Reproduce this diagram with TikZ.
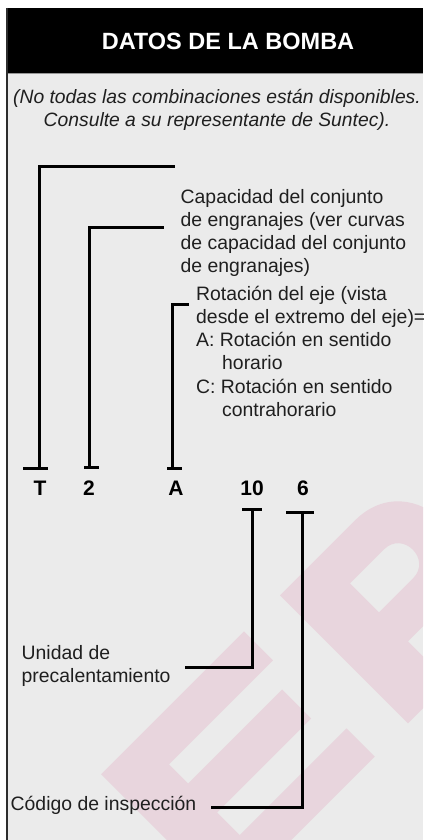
\documentclass[tikz,border=0pt]{standalone}
\usepackage{fontspec}
\setmainfont{Liberation Sans}
\usepackage{tikz}
\usetikzlibrary{positioning, calc}

\definecolor{panelgray}{RGB}{235,235,235}
\definecolor{framegray}{RGB}{45,45,45}
\definecolor{rulegray}{RGB}{150,150,150}
\definecolor{markpink}{RGB}{232,213,221}

\begin{document}
\begin{tikzpicture}[x=1pt, y=-1pt,
    conn/.style={line width=3pt, black},
    code/.style={font=\bfseries\fontsize{21}{25}\selectfont, anchor=base, inner sep=0pt},
    desc/.style={font=\fontsize{19.4}{23.3}\selectfont, align=left, anchor=base west, inner sep=0pt, text=black!88}]
    \useasboundingbox (0,0) rectangle (423,840);

    % Panel
    \fill[panelgray] (7,8) rectangle (423,840);

    % Watermark (tilted E and P)
    \begin{scope}
        \clip (8,75) rectangle (423,840);
        \begin{scope}[rotate=45, markpink]
            \fill (-476,619) -- (-274,619) -- (-274,660) -- (-421,660) -- (-421,687) -- (-288,687) -- (-288,728)
                -- (-421,728) -- (-421,760) -- (-270,760) -- (-270,800) -- (-476,800) -- cycle;
            \fill[even odd rule] (-223,800) -- (-223,619) -- (-117,619) .. controls (-35,619) and (-35,742) .. (-117,742)
                -- (-165,742) -- (-165,800) -- cycle
                (-165,660) -- (-117,660) .. controls (-90,660) and (-90,701) .. (-117,701) -- (-165,701) -- cycle;
        \end{scope}
    \end{scope}

    % Header
    \fill[black] (7,8) rectangle (423,73);
    \draw[rulegray, line width=1.5pt] (7,73.5) -- (423,73.5);
    \draw[framegray, line width=2pt] (7,8) -- (7,840);
    \node[font=\bfseries\fontsize{23.5}{28}\selectfont, text=white, anchor=base, inner sep=0pt] (title) at (228,50) {DATOS DE LA BOMBA};

    % Note (base = last line)
    \node[font=\itshape\fontsize{19.3}{24}\selectfont, align=center, anchor=base, inner sep=0pt, text=black!88] (note) at (217,127)
        {(No todas las combinaciones están disponibles.\\Consulte a su representante de Suntec).};

    % Code letters
    \node[code] (cT) at (40,495) {T};
    \node[code] (cTwo) at (89,495) {2};
    \node[code] (cA) at (176,495) {A};
    \node[code] (cTen) at (252,495) {10};
    \node[code] (cSix) at (303,495) {6};

    % Bars over and under the code
    \coordinate (barT) at (39,468);
    \coordinate (barTwo) at (89,467);
    \coordinate (barA) at (172,468);
    \coordinate (barTen) at (252,509);
    \coordinate (barSix) at (302,512);

    % Labels (base = last line)
    \node[desc] (capLbl) at (180.5,272.9) {Capacidad del conjunto\\de engranajes (ver curvas\\de capacidad del conjunto\\de engranajes)};
    \node[desc] (rotLbl) at (196,416.5) {Rotación del eje (vista\\desde el extremo del eje)=\\A: Rotación en sentido\\\hspace*{26pt}horario\\C: Rotación en sentido\\\hspace*{26pt}contrahorario};
    \node[desc] (heatLbl) at (21.5,682.3) {Unidad de\\precalentamiento};
    \node[desc] (inspLbl) at (10.5,810) {Código de inspección};

    % Label ends
    \coordinate (endT) at (175,166);
    \coordinate (endTwo) at (164,227);
    \coordinate (endA) at (189,304);
    \coordinate (endTen) at (185,667);
    \coordinate (endSix) at (211,807);

    % Connectors
    \draw[conn] ([xshift=-16pt]barT) -- ([xshift=9pt]barT) (barT) |- (endT);
    \draw[conn] ([xshift=-5pt]barTwo) -- ([xshift=10pt]barTwo) (barTwo) |- (endTwo);
    \draw[conn] ([xshift=-5pt]barA) -- ([xshift=10pt]barA) (barA) |- (endA);
    \draw[conn] ([xshift=-10pt]barTen) -- ([xshift=10pt]barTen) (barTen) |- (endTen);
    \draw[conn] ([xshift=-16pt]barSix) -- ([xshift=12pt]barSix) (barSix) |- (endSix);
\end{tikzpicture}
\end{document}
